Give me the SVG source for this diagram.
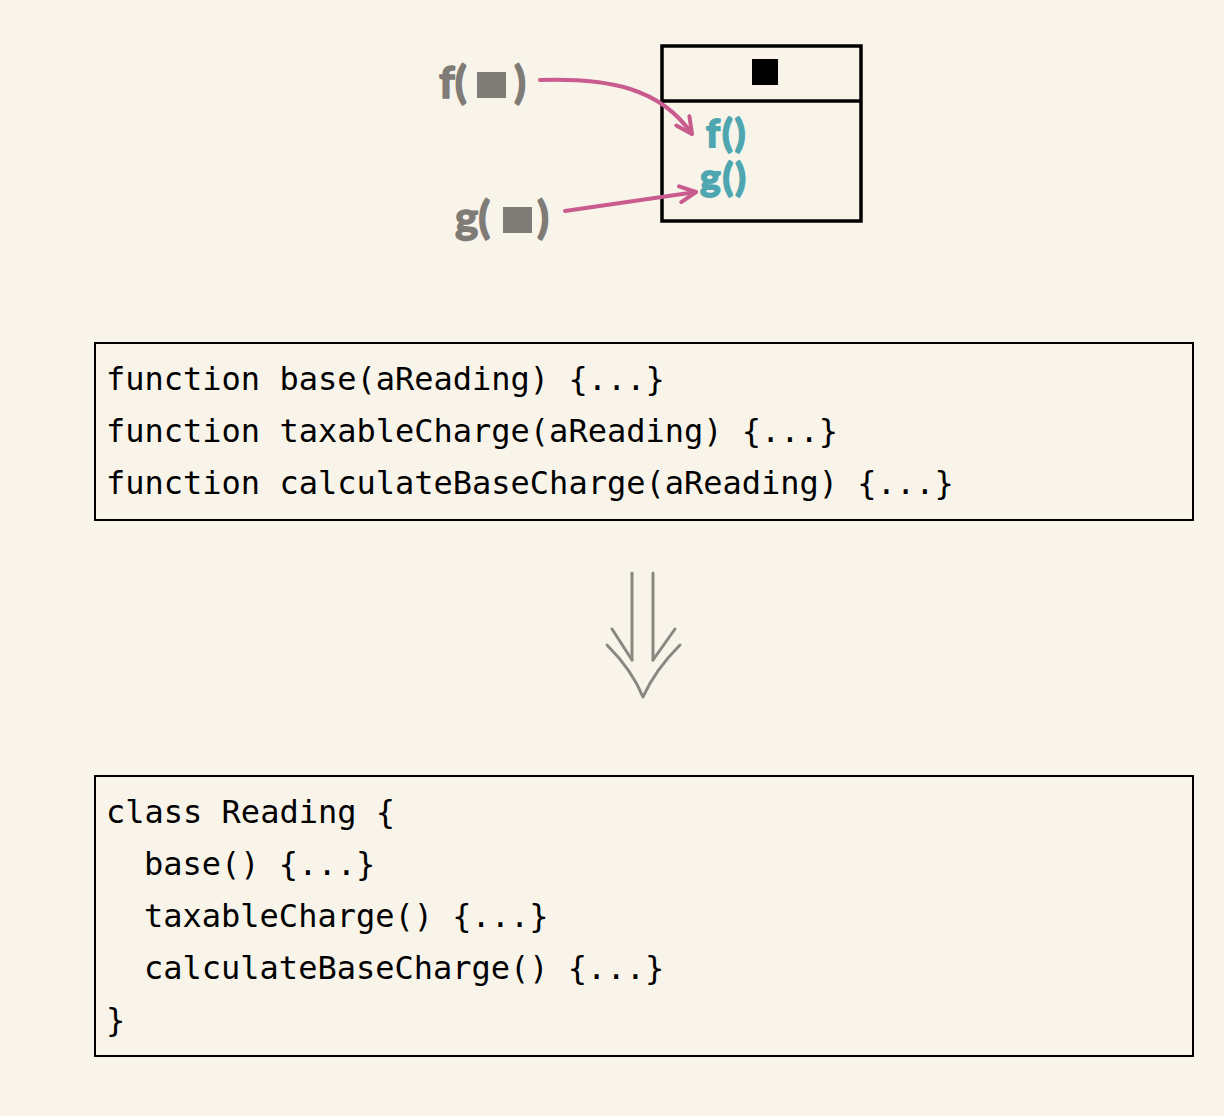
<svg xmlns="http://www.w3.org/2000/svg" width="1224" height="1116" viewBox="0 0 1224 1116">
<style>
.code{font-family:"DejaVu Sans Mono","Liberation Mono",monospace;font-size:32px;fill:#000}
.box{fill:none;stroke:#000;stroke-width:2}
.lbl{font-family:Lato,"Open Sans",sans-serif;font-weight:bold;font-size:44px;fill:#7f7b76;stroke:#7f7b76;stroke-width:1.5}
.meth{font-family:Lato,"Open Sans",sans-serif;font-weight:bold;font-size:39px;letter-spacing:2px;fill:#4ea7b0;stroke:#4ea7b0;stroke-width:1.8}
.call{fill:none;stroke:#c95b8e;stroke-width:4;stroke-linecap:round}
.big{fill:none;stroke:#8a8782;stroke-width:3;stroke-linecap:round;stroke-linejoin:round}
</style>
<defs>
<marker id="ah" viewBox="0 0 20 20" refX="18" refY="10" markerWidth="20" markerHeight="20" markerUnits="userSpaceOnUse" orient="auto">
<path d="M2,2 L18,10 L2,18" fill="none" stroke="#c95b8e" stroke-width="4" stroke-linecap="round" stroke-linejoin="round"/>
</marker>
</defs>
<rect width="1224" height="1116" fill="#f8f4ea"/>
<g id="class-box">
<rect x="662" y="46" width="199" height="175" fill="none" stroke="#000" stroke-width="3.5"/>
<line x1="662" y1="101" x2="861" y2="101" stroke="#000" stroke-width="3.5"/>
<rect x="752" y="59" width="26" height="26" fill="#000"/>
<text class="meth" x="706" y="147">f()</text>
<text class="meth" x="700" y="191">g()</text>
</g>
<g id="f-label">
<text class="lbl" x="439" y="98">f(<tspan x="514">)</tspan></text>
<rect x="477" y="72" width="29" height="26" fill="#7f7b76"/>
</g>
<g id="g-label">
<text class="lbl" x="455" y="233">g(<tspan x="537">)</tspan></text>
<rect x="503" y="207" width="29" height="26" fill="#7f7b76"/>
</g>
<g id="connectors">
<path class="call" d="M540,80 C610,78 660,88 692,134" marker-end="url(#ah)"/>
<path class="call" d="M565,211 L696,192" marker-end="url(#ah)"/>
<g id="transform-arrow" class="big">
<line x1="632" y1="573" x2="632" y2="660"/>
<line x1="653" y1="573" x2="653" y2="660"/>
<path d="M612,629 L632,660"/>
<path d="M675,629 L653,660"/>
<path d="M607,645 Q632,670 643,697 Q655,670 680,645"/>
</g>
</g>
<g id="functions">
<rect class="box" x="95" y="343" width="1098" height="177"/>
<text class="code" x="106" y="390">function base(aReading) {...}</text>
<text class="code" x="106" y="442">function taxableCharge(aReading) {...}</text>
<text class="code" x="106" y="494">function calculateBaseCharge(aReading) {...}</text>
</g>
<g id="class-reading">
<rect class="box" x="95" y="776" width="1098" height="280"/>
<text class="code" x="106" y="823">class Reading {</text>
<text class="code" x="144" y="875">base() {...}</text>
<text class="code" x="144" y="927">taxableCharge() {...}</text>
<text class="code" x="144" y="979">calculateBaseCharge() {...}</text>
<text class="code" x="106" y="1031">}</text>
</g>
</svg>
